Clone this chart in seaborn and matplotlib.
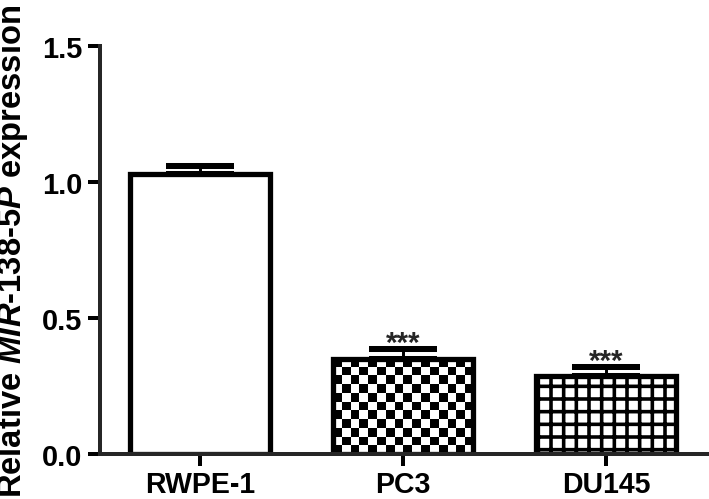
import numpy as np
import matplotlib
matplotlib.use("Agg")
import matplotlib.pyplot as plt
import seaborn as sns

# ── Data ───────────────────────────────────────────────────────
cell_lines = ["RWPE-1", "PC3", "DU145"]
expression = [1.03, 0.35, 0.285]
sem = [0.03, 0.035, 0.035]
signif = ["", "***", "***"]

# ── Style ──────────────────────────────────────────────────────
DPI = 76
sns.set_style("ticks")
plt.rcParams["font.family"] = ["Liberation Sans", "DejaVu Sans"]
plt.rcParams["font.weight"] = "bold"
plt.rcParams["mathtext.fontset"] = "custom"
plt.rcParams["mathtext.it"] = "Liberation Sans:italic:bold"
plt.rcParams["mathtext.rm"] = "Liberation Sans:bold"
plt.rcParams["hatch.linewidth"] = 3.4
plt.rcParams["hatch.color"] = "black"

fig = plt.figure(figsize=(709 / DPI, 500 / DPI), dpi=DPI)
ax = fig.add_axes([100 / 709, 1 - 455 / 500, 1 - 100 / 709, (455 - 47) / 500])

sns.barplot(x=cell_lines, y=expression, color="white", edgecolor="black",
            linewidth=5, width=0.69, errorbar=None, saturation=1, ax=ax)

ax.set_xlim(-0.493, 2.507)
ax.set_ylim(0, 1.5)

bars = ax.patches
# DU145: square grid
bars[2].set_hatch("+")

# PC3: checkerboard texture clipped to the bar
pc3 = bars[1]
pc3.set_facecolor("none")
bb = pc3.get_bbox()
disp = ax.transData.transform([[bb.x0, bb.y0], [bb.x1, bb.y1]])
cell = 8.6
nx = max(1, int(round((disp[1, 0] - disp[0, 0]) / cell)))
ny = max(1, int(round((disp[1, 1] - disp[0, 1]) / cell)))
board = (np.add.outer(np.arange(ny), np.arange(nx)) % 2).astype(float)
img = ax.imshow(board, cmap="gray", vmin=0, vmax=1, interpolation="nearest",
                extent=(bb.x0, bb.x1, bb.y0, bb.y1), aspect="auto",
                origin="lower", zorder=0.8)
img.set_clip_path(pc3)

# upward-only error bars
pos = np.arange(len(cell_lines))
ax.errorbar(pos, expression, yerr=[np.zeros(len(sem)), sem], fmt="none",
            ecolor="black", elinewidth=2.8, capsize=32, capthick=5.7, zorder=3)

# significance stars just above the caps
for x, m, e, s in zip(pos, expression, sem, signif):
    if s:
        ax.annotate(s, (x, m + e), xytext=(0, -2), textcoords="offset points",
                    ha="center", va="baseline", fontsize=28,
                    fontweight="bold", zorder=4)

# ── Axes ───────────────────────────────────────────────────────
sns.despine(ax=ax)
for side in ["left", "bottom"]:
    ax.spines[side].set_linewidth(3.8)
ax.set_yticks([0.0, 0.5, 1.0, 1.5])
ax.set_yticklabels(["0.0", "0.5", "1.0", "1.5"])
ax.tick_params(axis="both", width=3.8, length=11.5, labelsize=27.5,
               color="black", labelcolor="black")
ax.tick_params(axis="y", pad=5)
ax.tick_params(axis="x", pad=3.5, labelsize=27)
for lab in ax.get_xticklabels() + ax.get_yticklabels():
    lab.set_fontweight("bold")

ax.set_ylabel(r"Relative $\mathit{MIR}$-$\mathit{138}$-$\mathit{5P}$ expression",
              fontsize=31, fontweight="bold", color="black")
ax.yaxis.set_label_coords(-70 / 609, 0.5)

fig.savefig("out.png", dpi=DPI)
